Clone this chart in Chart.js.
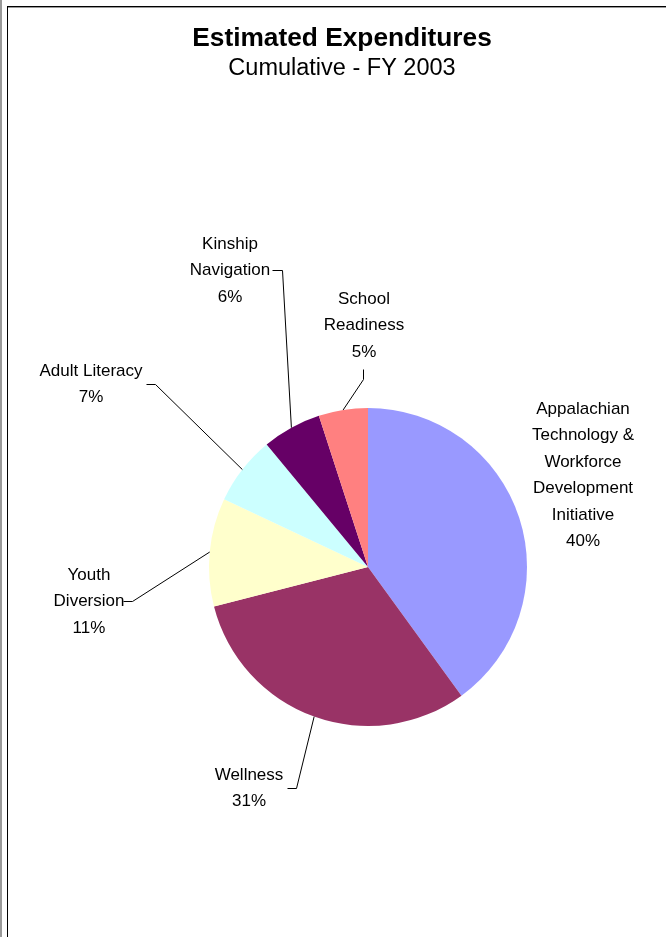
<!DOCTYPE html>
<html>
<head>
<meta charset="utf-8">
<script src="https://cdn.jsdelivr.net/npm/chart.js@4"></script>
<style>
  html, body { margin: 0; padding: 0; background: #fff; }
  #wrap { width: 666px; height: 937px; }
</style>
</head>
<body>
<div id="wrap"><canvas id="expChart" width="666" height="937"></canvas></div>
<script>
// Категории (каждая строка подписи отдельно)
var categories = [
    ["Appalachian", "Technology &", "Workforce", "Development", "Initiative"],
    ["Wellness"],
    ["Youth", "Diversion"],
    ["Adult Literacy"],
    ["Kinship", "Navigation"],
    ["School", "Readiness"]
];
// Доля расходов, %
var shares = [40, 31, 11, 7, 6, 5];
var sliceColors = ["#9999FF", "#993366", "#FFFFCC", "#CCFFFF", "#660066", "#FF8080"];

// Положение подписей и изломы выносных линий (только раскладка)
var labelLayout = [
    { x: 583, y: 409, elbow: null },
    { x: 249, y: 775, elbow: [[296, 788], [287, 788]] },
    { x: 89,  y: 575, elbow: [[132, 601], [123, 601]] },
    { x: 91,  y: 371, elbow: [[155, 384], [146, 384]] },
    { x: 230, y: 244, elbow: [[282, 270], [272, 270]] },
    { x: 364, y: 299, elbow: [[363, 379], [363, 369]] }
];
var lineH = 26.5;

var framePlugin = {
    id: 'frame',
    afterDraw: function (chart) {
        var ctx = chart.ctx;
        ctx.save();
        // рамка
        ctx.fillStyle = '#9a9a9a';
        ctx.fillRect(0, 0, 2, 937);
        ctx.fillStyle = '#000';
        ctx.fillRect(7, 6, 1, 931);
        ctx.fillRect(7, 6, 659, 1);
        ctx.fillStyle = '#9a9a9a';
        ctx.fillRect(8, 7, 658, 1);

        // заголовок
        ctx.fillStyle = '#000';
        ctx.textAlign = 'center';
        ctx.textBaseline = 'alphabetic';
        ctx.font = 'bold 26.3px "Liberation Sans", Arial, sans-serif';
        ctx.fillText('Estimated Expenditures', 342, 46);
        ctx.font = '23.5px "Liberation Sans", Arial, sans-serif';
        ctx.fillText('Cumulative - FY 2003', 342, 75);

        // подписи и выносные линии
        var meta = chart.getDatasetMeta(0);
        var total = shares.reduce(function (a, b) { return a + b; }, 0);
        ctx.font = '17px "Liberation Sans", Arial, sans-serif';
        ctx.textBaseline = 'middle';
        meta.data.forEach(function (arc, i) {
            var p = arc.getProps(['x', 'y', 'startAngle', 'endAngle', 'outerRadius'], true);
            var mid = (p.startAngle + p.endAngle) / 2;
            var ex = p.x + Math.cos(mid) * p.outerRadius;
            var ey = p.y + Math.sin(mid) * p.outerRadius;
            var lay = labelLayout[i];
            if (lay.elbow) {
                ctx.strokeStyle = '#000';
                ctx.lineWidth = 1;
                ctx.beginPath();
                ctx.moveTo(ex, ey);
                lay.elbow.forEach(function (pt) { ctx.lineTo(pt[0] + 0.5, pt[1] + 0.5); });
                ctx.stroke();
            }
            var lines = categories[i].concat([Math.round(shares[i] / total * 100) + '%']);
            lines.forEach(function (t, k) {
                ctx.fillText(t, lay.x, lay.y + k * lineH);
            });
        });
        ctx.restore();
    }
};

var expChart = new Chart(document.getElementById('expChart').getContext('2d'), {
    type: 'pie',
    data: {
        labels: categories,
        datasets: [{
            data: shares,
            backgroundColor: sliceColors,
            borderWidth: 0
        }]
    },
    options: {
        responsive: false,
        animation: false,
        events: [],
        layout: { padding: { left: 209, right: 139, top: 408, bottom: 211 } },
        plugins: {
            legend: { display: false },
            title: { display: false },
            tooltip: { enabled: false }
        }
    },
    plugins: [framePlugin]
});
</script>
</body>
</html>
